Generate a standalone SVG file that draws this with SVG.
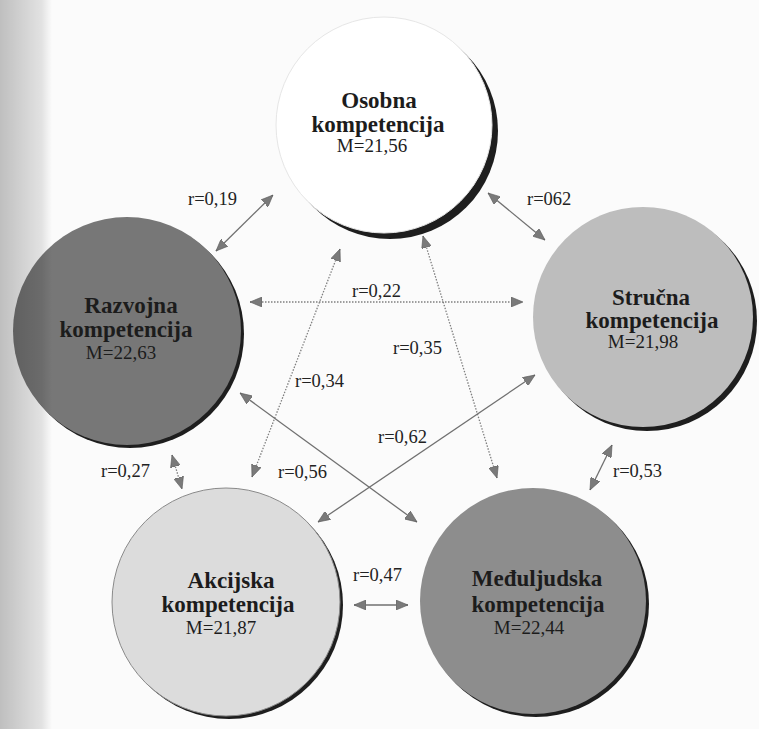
<svg xmlns="http://www.w3.org/2000/svg" width="759" height="729" viewBox="0 0 759 729">
  <defs>
    <style>
      .t { font-family: "Liberation Serif", "Times New Roman", serif; font-weight: bold; font-size: 23px; fill: #1c1c1c; text-anchor: middle; }
      .m { font-family: "Liberation Serif", "Times New Roman", serif; font-size: 19px; fill: #1c1c1c; text-anchor: middle; }
      .lbl { font-family: "Liberation Serif", "Times New Roman", serif; font-size: 18.5px; fill: #222; }
      .sh { fill: #1e1e1e; }
      .solid { stroke: #707070; stroke-width: 1.3; fill: none; marker-start: url(#ah); marker-end: url(#ah); }
      .dot { stroke: #808080; stroke-width: 1.3; stroke-dasharray: 1.5 1.5; fill: none; marker-start: url(#ah); marker-end: url(#ah); }
    </style>
    <marker id="ah" viewBox="0 0 12 10" refX="12" refY="5" markerWidth="12" markerHeight="10" markerUnits="userSpaceOnUse" orient="auto-start-reverse">
      <path d="M0,0 L12,5 L0,10 Z" fill="#7a7a7a" stroke="#5a5a5a" stroke-width="0.6"/>
    </marker>
    <linearGradient id="edge" x1="0" y1="0" x2="1" y2="0">
      <stop offset="0" stop-color="#000" stop-opacity="0.24"/>
      <stop offset="0.8" stop-color="#000" stop-opacity="0.1"/>
      <stop offset="1" stop-color="#000" stop-opacity="0"/>
    </linearGradient>
  </defs>

  <rect x="0" y="0" width="759" height="729" fill="#fbfbfb"/>

  <g id="osobna">
    <circle class="sh" cx="390" cy="131" r="108"/>
    <circle cx="384" cy="125" r="108" fill="#ffffff" stroke="#e6e6e6" stroke-width="1"/>
    <text class="t" x="379" y="108">Osobna</text>
    <text class="t" x="378" y="132">kompetencija</text>
    <text class="m" x="372" y="152">M=21,56</text>
  </g>

  <g id="razvojna">
    <circle class="sh" cx="130" cy="334" r="114"/>
    <circle cx="127" cy="331" r="114" fill="#777777"/>
    <text class="t" x="131" y="313">Razvojna</text>
    <text class="t" x="126" y="337">kompetencija</text>
    <text class="m" x="121" y="359">M=22,63</text>
  </g>

  <g id="strucna">
    <circle class="sh" cx="647" cy="321" r="110"/>
    <circle cx="643" cy="317" r="110" fill="#bdbdbd"/>
    <text class="t" x="651" y="305">Stručna</text>
    <text class="t" x="652" y="328">kompetencija</text>
    <text class="m" x="643" y="348">M=21,98</text>
  </g>

  <g id="akcijska">
    <circle class="sh" cx="229" cy="605" r="114"/>
    <circle cx="226" cy="602" r="114" fill="#dcdcdc" stroke="#8a8a8a" stroke-width="1"/>
    <text class="t" x="231" y="588">Akcijska</text>
    <text class="t" x="228" y="612">kompetencija</text>
    <text class="m" x="221" y="634">M=21,87</text>
  </g>

  <g id="meduljudska">
    <circle class="sh" cx="536" cy="604" r="113"/>
    <circle cx="533" cy="601" r="113" fill="#8d8d8d"/>
    <text class="t" x="537" y="586">Međuljudska</text>
    <text class="t" x="538" y="612">kompetencija</text>
    <text class="m" x="529" y="634">M=22,44</text>
  </g>

  <g id="connectors">
    <line class="solid" x1="216" y1="251" x2="273" y2="195"/>
    <line class="solid" x1="488" y1="193" x2="545" y2="240"/>
    <line class="dot" x1="250" y1="302" x2="523" y2="302"/>
    <line class="dot" x1="423" y1="236" x2="497" y2="478"/>
    <line class="dot" x1="340" y1="249" x2="252" y2="477"/>
    <line class="solid" x1="240" y1="393" x2="417" y2="522"/>
    <line class="solid" x1="535" y1="375" x2="318" y2="522"/>
    <line class="dot" x1="172" y1="455" x2="182" y2="489"/>
    <line class="solid" x1="612" y1="445" x2="590" y2="490"/>
    <line class="solid" x1="354" y1="605" x2="408" y2="605"/>
  </g>

  <g id="labels">
    <text class="lbl" x="188" y="205">r=0,19</text>
    <text class="lbl" x="527" y="205">r=062</text>
    <text class="lbl" x="352" y="297">r=0,22</text>
    <text class="lbl" x="393" y="354">r=0,35</text>
    <text class="lbl" x="295" y="387">r=0,34</text>
    <text class="lbl" x="378" y="443">r=0,62</text>
    <text class="lbl" x="278" y="478">r=0,56</text>
    <text class="lbl" x="101" y="477">r=0,27</text>
    <text class="lbl" x="613" y="477">r=0,53</text>
    <text class="lbl" x="353" y="581">r=0,47</text>
  </g>

  <rect x="0" y="0" width="52" height="729" fill="url(#edge)"/>
</svg>
